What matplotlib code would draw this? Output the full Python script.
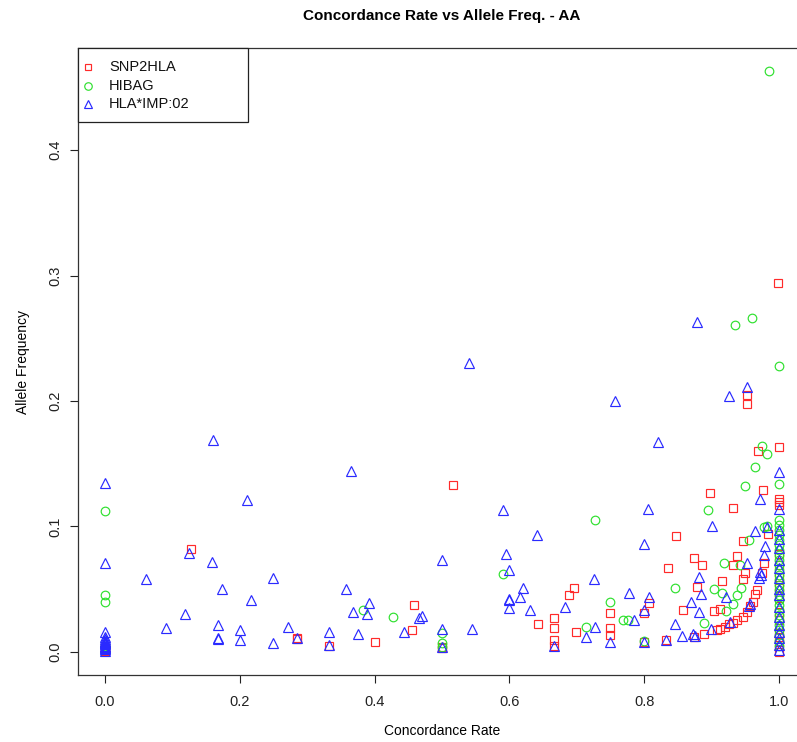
import matplotlib
matplotlib.use("Agg")
import matplotlib.pyplot as plt
from matplotlib.patches import Rectangle

plt.rcParams['font.family'] = ['Liberation Sans', 'DejaVu Sans']

# ---------------- data ----------------
snp_x = [0, 0, 0, 0,
         0.128, 0.285, 0.285, 0.333, 0.400, 0.455, 0.458, 0.5, 0.5, 0.517,
         0.642, 0.666, 0.666, 0.666, 0.666, 0.689, 0.696, 0.699,
         0.749, 0.749, 0.749, 0.807, 0.8, 0.8, 0.833, 0.836, 0.847, 0.857,
         0.874, 0.874, 0.878, 0.885, 0.888, 0.897, 0.904, 0.913,
         0.908, 0.913, 0.920, 0.926, 0.932, 0.938, 0.947, 0.952, 0.957, 0.961, 0.965, 0.968,
         0.915, 0.931, 0.931, 0.937, 0.947, 0.947, 0.95, 0.953, 0.953, 0.969, 0.975,
         0.976, 0.978, 0.983, 0.999,
         1, 1, 1, 1, 1, 1, 1, 1, 1, 1, 1, 1, 1, 1, 1]
snp_y = [0.0005, 0.001, 0.002, 0.003,
         0.082, 0.0114, 0.010, 0.005, 0.0077, 0.0175, 0.037, 0.004, 0.003, 0.133,
         0.022, 0.027, 0.019, 0.0095, 0.0048, 0.045, 0.051, 0.0154,
         0.031, 0.019, 0.013, 0.039, 0.031, 0.008, 0.0095, 0.067, 0.092, 0.033,
         0.075, 0.012, 0.0515, 0.069, 0.014, 0.127, 0.0326, 0.034,
         0.017, 0.018, 0.020, 0.022, 0.0233, 0.0254, 0.028, 0.032, 0.0366, 0.040, 0.046, 0.049,
         0.0565, 0.115, 0.069, 0.0766, 0.088, 0.058, 0.0626, 0.205, 0.1975, 0.160, 0.0626,
         0.129, 0.071, 0.094, 0.294,
         0.163, 0.122, 0.1195, 0.117, 0.069, 0.060, 0.0507, 0.0427, 0.032, 0.0254,
         0.0, 0.008, 0.012, 0.015, 0.078]

hib_x = [0, 0, 0, 0, 0,
         0.383, 0.428, 0.5, 0.5, 0.5, 0.59, 0.713, 0.727, 0.749, 0.768, 0.776,
         0.8, 0.845, 0.888, 0.894, 0.903, 0.915, 0.919, 0.922, 0.932, 0.935,
         0.937, 0.942, 0.944, 0.949, 0.956, 0.960, 0.964, 0.974, 0.982, 0.977,
         0.982, 0.985,
         1, 1, 1, 1, 1, 1, 1, 1, 1, 1, 1, 1, 1, 1, 1, 1, 1, 1, 1, 1, 1, 1, 1, 1,
         1, 1, 1, 1]
hib_y = [0.112, 0.045, 0.040, 0.003, 0.005,
         0.033, 0.0276, 0.015, 0.0069, 0.004, 0.062, 0.020, 0.105, 0.0395, 0.0255, 0.0255,
         0.009, 0.051, 0.023, 0.113, 0.050, 0.047, 0.0705, 0.0326, 0.038, 0.261,
         0.045, 0.069, 0.0506, 0.132, 0.089, 0.266, 0.147, 0.164, 0.158, 0.0997,
         0.100, 0.463,
         0.228, 0.134, 0.105, 0.101, 0.097, 0.093, 0.089, 0.085, 0.081, 0.077, 0.073,
         0.069, 0.065, 0.061, 0.057, 0.053, 0.049, 0.045, 0.041, 0.037, 0.033, 0.029,
         0.025, 0.021, 0.017, 0.013, 0.009, 0.005]

imp_x = [0, 0, 0, 0, 0, 0, 0, 0, 0, 0, 0, 0, 0, 0,
         0.061, 0.091, 0.118, 0.125, 0.159, 0.161, 0.167, 0.167, 0.167, 0.173,
         0.2, 0.2, 0.211, 0.217, 0.25, 0.25, 0.272, 0.285, 0.333, 0.333,
         0.357, 0.365, 0.368, 0.375, 0.389, 0.391, 0.444, 0.466, 0.471,
         0.5, 0.5, 0.5, 0.54, 0.545, 0.59, 0.595, 0.6, 0.6, 0.6, 0.6,
         0.615, 0.620, 0.631, 0.641, 0.666, 0.683, 0.713, 0.726, 0.727, 0.749,
         0.757, 0.777, 0.785, 0.799, 0.8, 0.8, 0.805, 0.807, 0.821, 0.833,
         0.845, 0.856, 0.869, 0.873, 0.875, 0.878, 0.882, 0.882, 0.884, 0.899,
         0.901, 0.922, 0.926, 0.927, 0.952, 0.952, 0.955, 0.957, 0.965, 0.970,
         0.972, 0.973, 0.972, 0.977, 0.979, 0.982,
         1, 1, 1, 1, 1, 1, 1, 1, 1, 1, 1, 1, 1, 1, 1, 1, 1]
imp_y = [0.135, 0.071, 0.016, 0.012, 0.010, 0.009, 0.008, 0.007, 0.006, 0.005,
         0.004, 0.003, 0.002, 0.001,
         0.058, 0.019, 0.030, 0.079, 0.072, 0.169, 0.021, 0.011, 0.0105, 0.050,
         0.0175, 0.0093, 0.121, 0.041, 0.059, 0.0074, 0.0196, 0.0114, 0.016, 0.0056,
         0.050, 0.144, 0.032, 0.0138, 0.030, 0.039, 0.016, 0.027, 0.0286,
         0.073, 0.018, 0.004, 0.230, 0.0185, 0.113, 0.078, 0.065, 0.042, 0.041, 0.035,
         0.044, 0.051, 0.033, 0.093, 0.0048, 0.036, 0.012, 0.058, 0.0196, 0.0077,
         0.200, 0.047, 0.025, 0.086, 0.033, 0.008, 0.114, 0.0435, 0.167, 0.0095,
         0.022, 0.0127, 0.040, 0.014, 0.0127, 0.263, 0.060, 0.032, 0.046, 0.018,
         0.100, 0.044, 0.204, 0.024, 0.211, 0.071, 0.0366, 0.038, 0.096, 0.0586,
         0.064, 0.061, 0.122, 0.077, 0.084, 0.0997,
         0.143, 0.1135, 0.097, 0.090, 0.0825, 0.073, 0.0665, 0.0585, 0.050, 0.045,
         0.036, 0.028, 0.0215, 0.016, 0.011, 0.0056, 0.0016]

series_names = ["SNP2HLA", "HIBAG", "HLA*IMP:02"]
x_ticks = [0.0, 0.2, 0.4, 0.6, 0.8, 1.0]
y_ticks = [0.0, 0.1, 0.2, 0.3, 0.4]

# ---------------- figure ----------------
W, H = 797, 742
fig = plt.figure(figsize=(W / 100, H / 100), dpi=100)
L, R, T, B = 78, 806, 48, 675
AW, AH = R - L, B - T
ax = fig.add_axes([L / W, 1 - B / H, AW / W, AH / H])

red, green, blue = '#FF2A2A', '#2EE02E', '#2A2AFF'
colors = [red, green, blue]
markers = ['s', 'o', '^']
sizes = [5.8, 6.2, 7.2]
lw = 0.85
for xs, ys, c, m, s in zip([snp_x, hib_x, imp_x], [snp_y, hib_y, imp_y],
                           colors, markers, sizes):
    ax.plot(xs, ys, linestyle='none', marker=m, ms=s, mfc='none', mec=c, mew=lw)

ax.set_xlim(-0.04, 1.04)
ax.set_ylim(-0.0185, 0.4815)
ax.set_xticks(x_ticks)
ax.set_xticklabels([f"{v:.1f}" for v in x_ticks])
ax.set_yticks(y_ticks)
ax.set_yticklabels([f"{v:.1f}" for v in y_ticks], rotation=90, va='center')
ax.tick_params(axis='both', direction='out', length=5.5, width=0.8,
               labelsize=10.5, colors='#222222')
ax.tick_params(axis='x', pad=9)
ax.tick_params(axis='y', pad=6)
for s in ax.spines.values():
    s.set_linewidth(0.9)
    s.set_color('#333333')

ax.set_xlabel("Concordance Rate", fontsize=10, labelpad=11)
ax.set_ylabel("Allele Frequency", fontsize=10, labelpad=13)
fig.text((L + R) / 2 / W, 1 - 16 / H, "Concordance Rate vs Allele Freq. - AA",
         ha='center', va='center', fontsize=11, fontweight='bold')

# legend box (R style), drawn in axes fraction coordinates
box_right_px, box_bottom_px = 248, 122
ax.add_patch(Rectangle((0, (B - box_bottom_px) / AH), (box_right_px - L) / AW,
                       (box_bottom_px - T) / AH, transform=ax.transAxes,
                       facecolor='white', edgecolor='#222222', lw=0.9,
                       clip_on=False, zorder=5))
row_px = [67, 86, 104]
leg_sizes = [5.0, 5.4, 6.4]
for name, c, m, s, rp in zip(series_names, colors, markers, leg_sizes, row_px):
    yy = (B - rp) / AH
    ax.plot([(88 - L) / AW], [yy], transform=ax.transAxes, linestyle='none',
            marker=m, ms=s, mfc='none', mec=c, mew=lw, clip_on=False, zorder=6)
    ax.text((109 - L) / AW, yy, name, transform=ax.transAxes, va='center',
            ha='left', fontsize=10.5, color='#111111', zorder=6)

fig.savefig("out.png", dpi=100)
